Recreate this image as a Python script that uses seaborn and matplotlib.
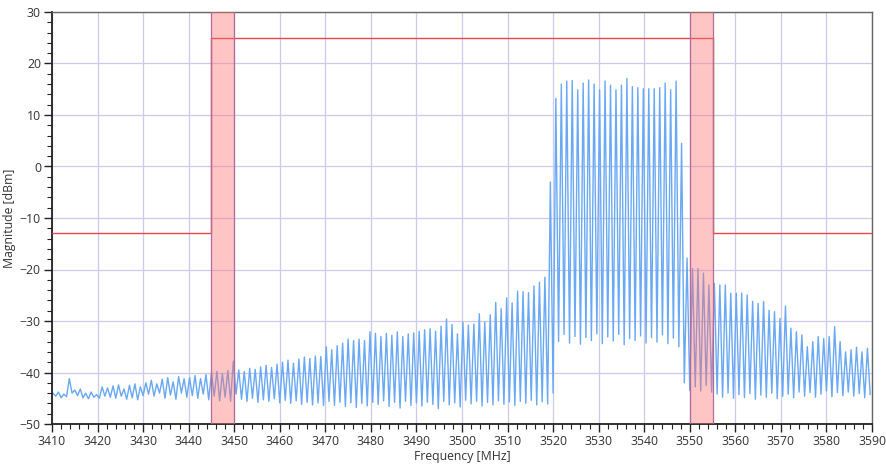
import numpy as np
import pandas as pd
import matplotlib
matplotlib.use("Agg")
import matplotlib.pyplot as plt
from matplotlib.ticker import MultipleLocator
import seaborn as sns

# ---- data ----
# signal: one peak and one trough per ~1.2 MHz cycle
cycle_start = 3410.2
cycle_step = 1.2

peaks = [
    # 3410-3420
    -44.0, -43.8, -44.2, -41.2, -43.4, -43.2, -44.0, -43.8, -44.3,
    # 3420-3430
    -42.8, -43.0, -42.6, -42.4, -43.2, -42.5, -42.2, -42.8,
    # 3430-3440
    -42.0, -41.5, -42.2, -41.3, -41.0, -41.8, -40.8, -41.2,
    # 3440-3450
    -41.0, -40.6, -41.2, -40.4, -40.0, -39.8, -40.2, -39.6, -37.8,
    # 3450-3460
    -39.5, -39.8, -39.2, -39.4, -38.9, -38.6, -39.0, -38.4,
    # 3460-3470
    -38.0, -37.6, -38.2, -37.4, -37.0, -37.3, -36.8, -36.9,
    # 3470-3480
    -35.0, -35.6, -34.8, -34.3, -33.5, -33.8, -33.5, -33.8, -32.1,
    # 3480-3490
    -32.4, -33.0, -32.4, -32.8, -32.1, -33.0, -32.5, -32.3,
    # 3490-3496
    -32.0, -31.7, -31.5, -32.0, -31.0,
    # 3496-3520
    -29.6, -30.7, -32.5, -30.2, -30.8, -30.6, -28.6, -30.2, -28.8, -26.4,
    -27.6, -25.5, -26.5, -24.2, -24.3, -24.5, -23.2, -22.5, -21.5, -3.0,
    # 3520-3548 carrier
    13.2, 16.0, 16.6, 16.7, 14.9, 16.2, 16.8, 16.0, 14.9, 16.6, 15.8, 14.9,
    15.8, 17.1, 15.5, 15.3, 15.1, 15.1, 15.1, 15.3, 16.2, 14.9, 16.6,
    # shoulder
    4.5,
    # 3549-3590
    -17.8, -19.8, -19.8, -20.7, -23.0, -22.7, -23.0, -23.0, -24.6, -24.6,
    -24.6, -24.95, -26.2, -26.6, -26.2, -27.9, -28.2, -29.5, -27.1, -31.4,
    -32.1, -32.7, -35.0, -34.0, -33.0, -33.4, -33.0, -31.1, -34.0, -36.0,
    -35.6, -35.1, -36.0, -35.3,
]

troughs = [
    -44.6, -44.9, -44.7, -44.0, -44.5, -44.9, -45.1, -44.8, -45.0,
    -44.6, -44.8, -45.0, -44.6, -45.2, -44.9, -45.3, -44.5,
    -44.2, -44.6, -44.0, -45.0, -44.4, -45.2, -44.0, -44.8,
    -44.5, -45.0, -44.2, -45.3, -44.6, -45.5, -44.8, -45.6, -44.2,
    -45.2, -45.6, -45.0, -45.8, -45.3, -45.6, -45.1, -45.9,
    -45.4, -46.0, -45.5, -46.2, -45.8, -46.3, -45.9, -46.4,
    -45.6, -46.4, -45.8, -46.6, -45.9, -46.8, -46.0, -46.5, -45.8,
    -46.2, -45.5, -46.6, -45.8, -46.9, -45.6, -46.4, -45.9,
    -46.5, -45.8, -46.2, -47.0, -45.6,
    -46.3, -45.9, -46.7, -45.4, -46.1, -45.6, -46.5, -45.8, -46.3, -45.5,
    -46.2, -45.7, -46.4, -45.6, -46.0, -45.4, -46.3, -45.7, -46.1, -44.0,
    -34.0, -32.6, -34.3, -33.0, -34.5, -33.2, -33.8, -32.5, -34.4, -33.1,
    -33.9, -32.6, -34.6, -33.4, -33.8, -32.9, -34.3, -33.2, -34.1, -32.7,
    -34.4, -33.3, -35.0,
    -42.0,
    -43.5, -42.8, -43.6, -42.5, -43.8, -44.2, -44.8, -44.0, -45.0, -44.3,
    -44.9, -44.1, -45.2, -44.4, -44.8, -44.0, -45.1, -44.6, -44.2, -44.9,
    -43.8, -44.6, -43.9, -44.8, -44.2, -43.6, -44.7, -43.9, -44.5, -43.8,
    -44.6, -44.1, -44.9, -44.3,
]

# spectrum emission mask (step line)
mask_freqs = [3410, 3445, 3555, 3590]
mask_levels = [-13, 25, -13, -13]

# highlighted transition bands
band_starts = [3445, 3550]
band_ends = [3450, 3555]

x_ticks = list(range(3410, 3591, 10))
y_ticks = list(range(-50, 31, 10))

# ---- build signal table ----
n = len(peaks)
peak_f = cycle_start + cycle_step * np.arange(n)
trough_f = peak_f + cycle_step / 2
freq = np.empty(2 * n)
mag = np.empty(2 * n)
freq[0::2] = peak_f
freq[1::2] = trough_f
mag[0::2] = peaks
mag[1::2] = troughs
df = pd.DataFrame({"Frequency": freq, "Magnitude": mag})

# ---- plot ----
sns.set_style("white")
plt.rcParams["font.family"] = ["Open Sans", "DejaVu Sans"]

fig = plt.figure(figsize=(8.87, 4.69), dpi=100)
ax = fig.add_axes([52 / 887, 1 - 424 / 469, 820 / 887, 412 / 469])

grid_c = "#cbcbef"
for xv in x_ticks:
    ax.axvline(xv, color=grid_c, lw=0.9, zorder=0)
for yv in y_ticks:
    ax.axhline(yv, color=grid_c, lw=0.9, zorder=0)

sns.lineplot(data=df, x="Frequency", y="Magnitude", ax=ax, color="#68a8f4",
             lw=1.0, estimator=None, sort=False, zorder=2)

ax.step(mask_freqs, mask_levels, where="post", color="#e4484c", lw=1.0, zorder=3)

for b0, b1 in zip(band_starts, band_ends):
    ax.axvspan(b0, b1, facecolor="#ff7070", alpha=0.4, edgecolor="none", zorder=4)
    ax.axvline(b0, color="#b26a9a", lw=0.9, zorder=4)
    ax.axvline(b1, color="#b26a9a", lw=0.9, zorder=4)

ax.set_xlim(3410, 3590)
ax.set_ylim(-50, 30)
ax.set_xticks(x_ticks)
ax.set_yticks(y_ticks)
ax.xaxis.set_minor_locator(MultipleLocator(2))
ax.yaxis.set_minor_locator(MultipleLocator(2))
ax.tick_params(axis="both", which="major", direction="out", length=6, width=1,
               color="#222222", labelsize=8.8, labelcolor="#333333", pad=2,
               bottom=True, left=True)
ax.tick_params(axis="both", which="minor", direction="out", length=3.5, width=0.8,
               color="#222222", bottom=True, left=True)

for side in ["left", "bottom"]:
    ax.spines[side].set_color("#222222")
    ax.spines[side].set_linewidth(1.3)
for side in ["top", "right"]:
    ax.spines[side].set_color("#666666")
    ax.spines[side].set_linewidth(1.0)

ax.set_xlabel("Frequency [MHz]", fontsize=8.8, color="#333333", labelpad=1)
ax.set_ylabel("Magnitude [dBm]", fontsize=8.8, color="#333333", labelpad=3)

fig.savefig("out.png", dpi=100)
